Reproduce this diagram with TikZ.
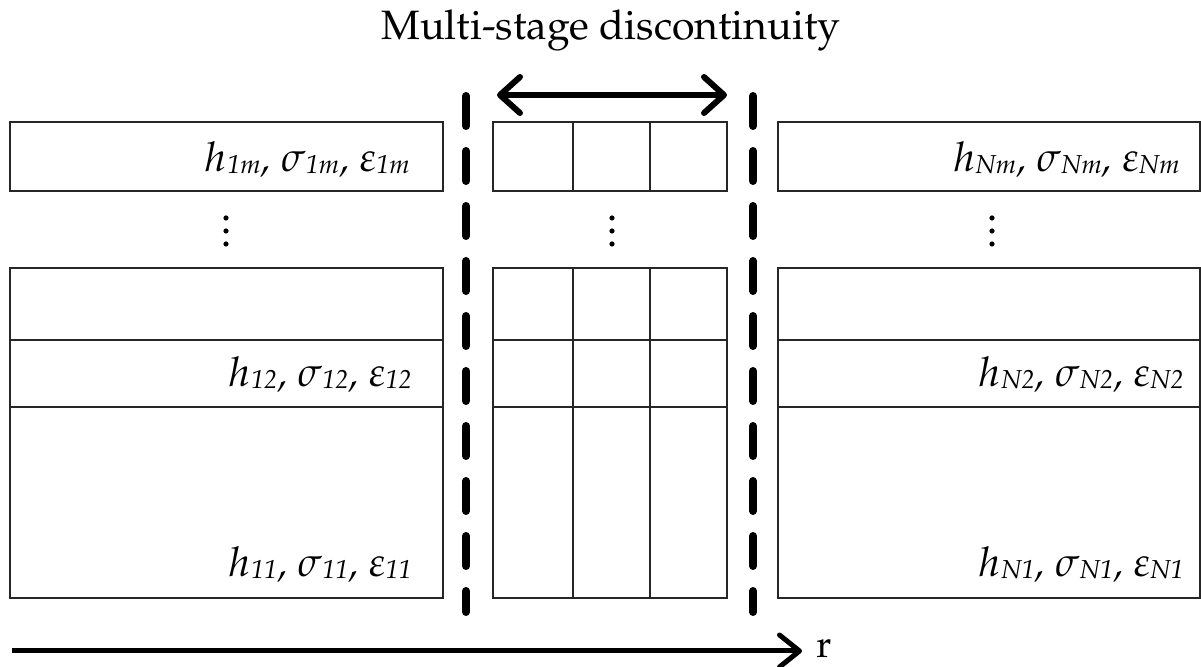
\documentclass[tikz,border=0pt]{standalone}
\usepackage[T1]{fontenc}
\usepackage{mathpazo}
\usetikzlibrary{arrows.meta,positioning}
\tikzset{
  box/.style   ={draw=black!85, line width=1pt},
  lbl/.style   ={inner sep=0pt, anchor=base east, font=\fontsize{20.5}{24}\selectfont\itshape},
  ttl/.style   ={inner sep=0pt, anchor=base, font=\fontsize{20.5}{24}\selectfont},
  sepline/.style={line width=4pt, line cap=round, dash pattern=on 15pt off 12.5pt},
  dblarr/.style={line width=3pt, {Straight Barb[length=10pt,width=18pt,round]}-{Straight Barb[length=10pt,width=18pt,round]}},
  raxis/.style ={line width=2.5pt, -{Straight Barb[length=10pt,width=16pt,round]}},
}
% layer quantity with a small italic index
\newcommand{\lyr}[2]{$#1$\kern0.2pt\raisebox{-0.6pt}{\fontsize{13}{13}\selectfont\itshape #2}}

\begin{document}
\begin{tikzpicture}[x=0.5pt, y=-0.5pt]
  \useasboundingbox (0,0) rectangle (1201,667);
  % title
  \node[ttl] (title) at (611,40) {Multi-stage discontinuity};
  % left and right columns
  \foreach \t/\b in {122/191, 268/340, 340/407, 407/598} {
    \draw[box] (10,\t) rectangle (443,\b);
    \draw[box] (778,\t) rectangle (1200,\b);
  }
  % middle grid
  \foreach \t/\b in {122/191, 268/340, 340/407, 407/598}
    \foreach \a/\c in {493/573, 573/650, 650/727}
      \draw[box] (\a,\t) rectangle (\c,\b);
  % labels
  \node[lbl] (l1m) at (410,172) {\lyr{h}{1m}, \lyr{\sigma}{1m}, \lyr{\varepsilon}{1m}};
  \node[lbl] (l12) at (412,387) {\lyr{h}{12}, \lyr{\sigma}{12}, \lyr{\varepsilon}{12}};
  \node[lbl] (l11) at (412,577) {\lyr{h}{11}, \lyr{\sigma}{11}, \lyr{\varepsilon}{11}};
  \node[lbl] (rNm) at (1180,172) {\lyr{h}{Nm}, \lyr{\sigma}{Nm}, \lyr{\varepsilon}{Nm}};
  \node[lbl] (rN2) at (1184,387) {\lyr{h}{N2}, \lyr{\sigma}{N2}, \lyr{\varepsilon}{N2}};
  \node[lbl] (rN1) at (1184,577) {\lyr{h}{N1}, \lyr{\sigma}{N1}, \lyr{\varepsilon}{N1}};
  % vertical ellipses
  \foreach \x in {226, 612, 992}
    \foreach \y in {218, 231, 244}
      \fill (\x,\y) circle (2.6);
  % discontinuity boundaries
  \draw[sepline] (466,96) -- (466,612);
  \draw[sepline] (753,96) -- (753,612);
  \draw[dblarr] (497,95) -- (727,95);
  % radial axis
  \coordinate (r0) at (12,651);
  \node[inner sep=0pt, anchor=base west, font=\fontsize{19}{22}\selectfont] (rlab) at (816,658) {r};
  \draw[raxis] (r0) -- (802,651);
\end{tikzpicture}
\end{document}
